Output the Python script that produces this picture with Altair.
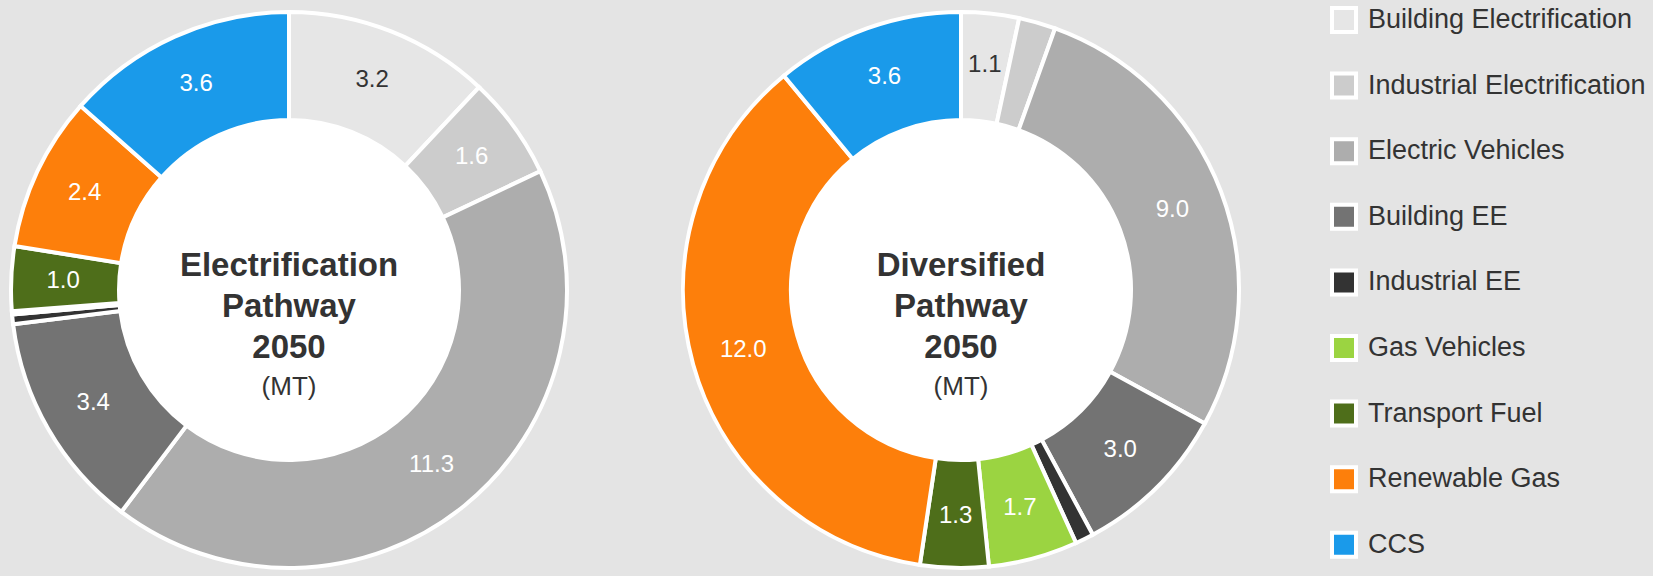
import math
import altair as alt
import pandas as pd

# ---- data ----
categories = [
    "Building Electrification",
    "Industrial Electrification",
    "Electric Vehicles",
    "Building EE",
    "Industrial EE",
    "Gas Vehicles",
    "Transport Fuel",
    "Renewable Gas",
    "CCS",
]
electrification_values = [3.2, 1.6, 11.3, 3.4, 0.15, 0.05, 1.0, 2.4, 3.6]
diversified_values = [1.1, 0.7, 9.0, 3.0, 0.35, 1.7, 1.3, 12.0, 3.6]
pathway_names = ["Electrification", "Diversified"]
title_line2 = "Pathway"
title_year = "2050"
unit_label = "(MT)"

colors = [
    "#e6e6e6", "#cccccc", "#adadad", "#737373", "#333333",
    "#9bd441", "#4e6e1a", "#fd7f0b", "#1a9aea",
]

# ---- layout / style ----
W, H = 1653, 576
BG = "#e4e4e4"
CX = {"Electrification": 289, "Diversified": 961}
CY = 290
R_OUT = 278
R_IN = 170
R_LABEL = 226
FONT = "Liberation Sans"
TXT = "#333333"

color_enc = alt.Color(
    "category:N",
    scale=alt.Scale(domain=categories, range=colors),
    legend=alt.Legend(
        orient="none", legendX=1330, legendY=6, title=None,
        symbolType="square", symbolSize=576, symbolStrokeColor="white",
        symbolStrokeWidth=4, symbolOpacity=1,
        labelFontSize=27, labelColor=TXT, labelFont=FONT, labelOffset=10,
        rowPadding=25.6, labelLimit=400, padding=0,
    ),
)


def donut(name, values):
    cx = CX[name]
    df = pd.DataFrame({"category": categories, "value": values,
                       "idx": list(range(len(categories)))})
    base = (
        alt.Chart(df)
        .transform_joinaggregate(total="sum(value)")
        .transform_calculate(
            frac="datum.value / datum.total",
            label="datum.value >= 1 ? format(datum.value, '.1f') : ''",
        )
    )
    theta = alt.Theta("frac:Q", stack=True,
                      scale=alt.Scale(domain=[0, 1], range=[0, 2 * math.pi]))
    arcs = base.mark_arc(outerRadius=R_OUT, innerRadius=R_IN,
                         stroke="white", strokeWidth=4).encode(
        theta=theta, color=color_enc, order=alt.Order("idx:Q"),
        x=alt.value(cx), y=alt.value(CY),
    )
    labels = base.mark_text(radius=R_LABEL, font=FONT, fontSize=24,
                            baseline="middle", align="center").encode(
        theta=theta, order=alt.Order("idx:Q"), text="label:N",
        color=alt.condition(alt.datum.category == categories[0],
                            alt.value(TXT), alt.value("white")),
        x=alt.value(cx), y=alt.value(CY),
    )
    tdf = pd.DataFrame({"l1": [name], "l2": [title_line2],
                        "l3": [title_year], "l4": [unit_label]})
    hole = alt.Chart(tdf).mark_arc(theta=0, theta2=2 * math.pi,
                                   outerRadius=R_IN + 1, innerRadius=0,
                                   fill="white").encode(
        x=alt.value(cx), y=alt.value(CY))
    texts = []
    for i, col in enumerate(["l1", "l2", "l3"]):
        texts.append(alt.Chart(tdf).mark_text(
            font=FONT, fontSize=33, fontWeight="bold", color=TXT,
            baseline="middle", align="center").encode(
            text=f"{col}:N", x=alt.value(cx), y=alt.value(266 + 41 * i)))
    texts.append(alt.Chart(tdf).mark_text(
        font=FONT, fontSize=26, color=TXT, baseline="middle",
        align="center").encode(
        text="l4:N", x=alt.value(cx), y=alt.value(387)))
    return [arcs, hole, labels] + texts


layers = donut("Electrification", electrification_values) + donut(
    "Diversified", diversified_values)

chart = (
    alt.layer(*layers)
    .properties(width=W, height=H, padding=0,
                autosize=alt.AutoSizeParams(type="none"), background=BG)
    .configure_view(stroke=None)
)

chart.save("out.html", embed_options={"renderer": "svg", "actions": False})
